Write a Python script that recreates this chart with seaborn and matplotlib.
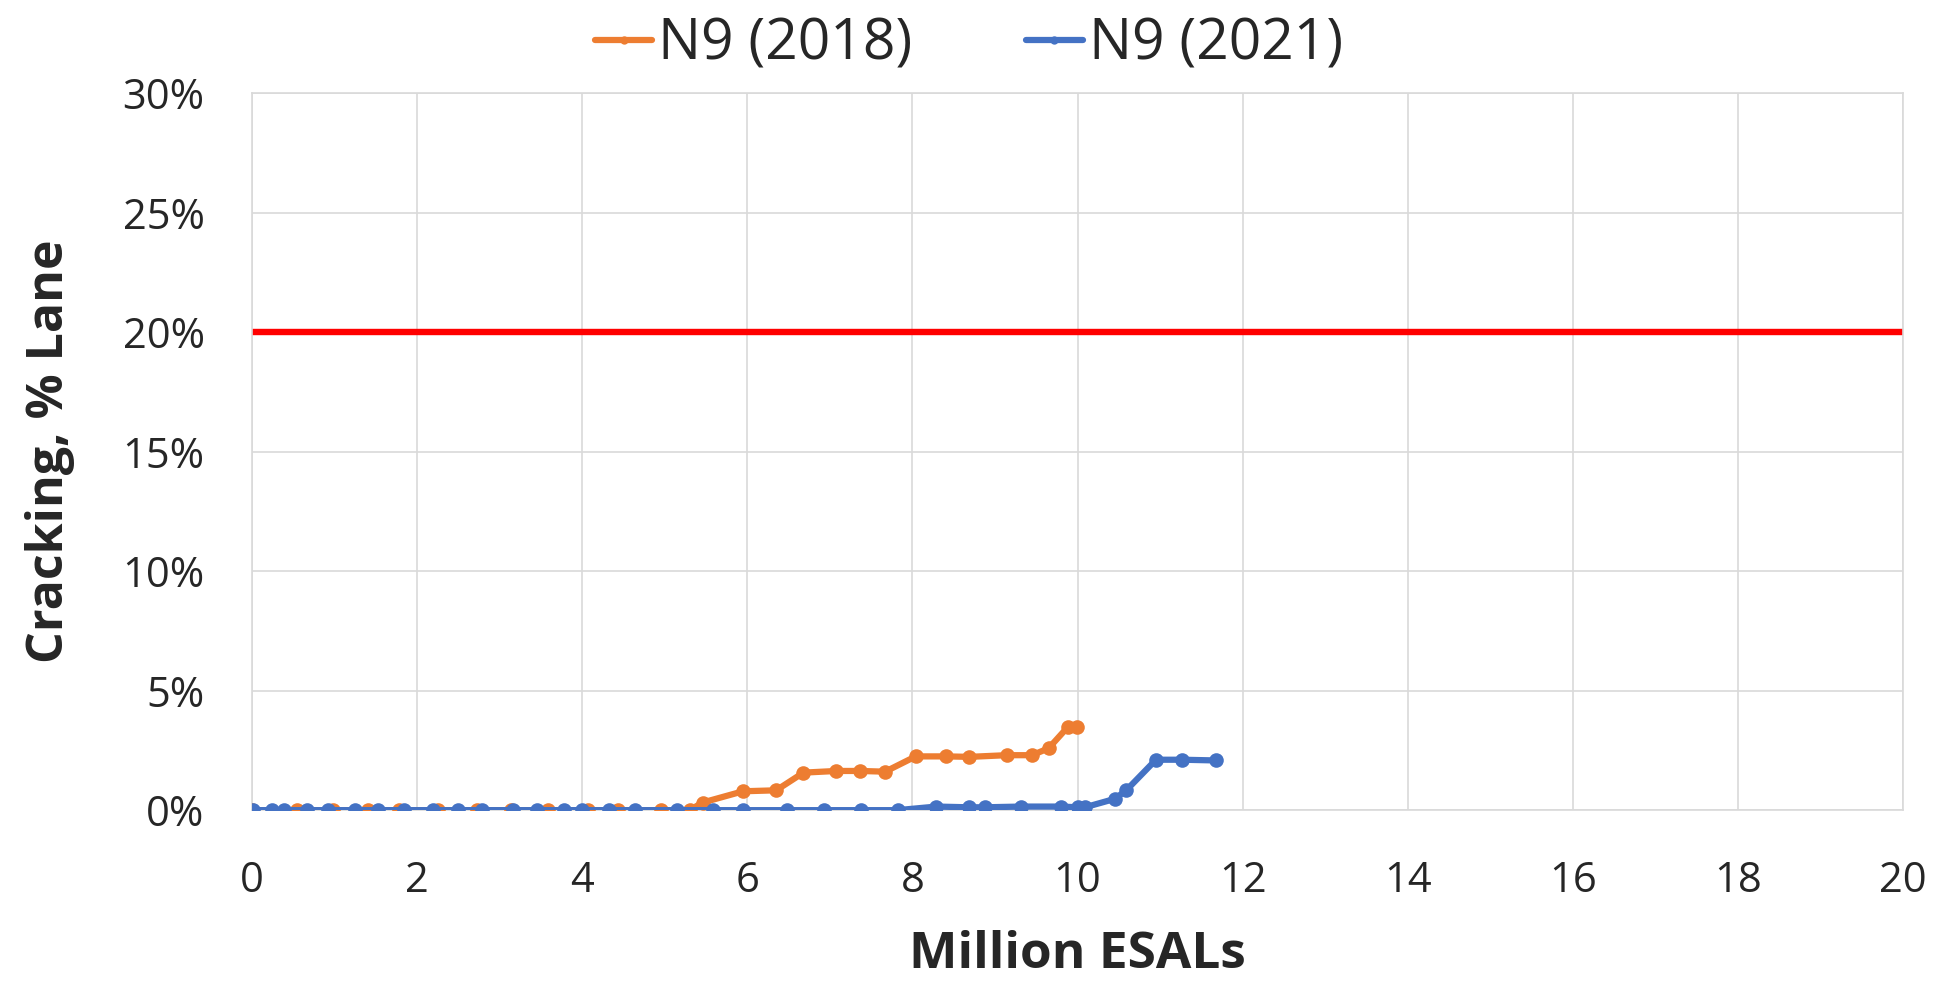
import pandas as pd
import matplotlib
matplotlib.use("Agg")
import matplotlib.pyplot as plt
import seaborn as sns

# million ESALs / cracking (% lane)
esal_2018 = [0.0, 0.55, 0.98, 1.40, 1.78, 2.25, 2.73, 3.14, 3.58, 4.07, 4.43, 4.95,
             5.30, 5.46, 5.95, 6.35, 6.68, 7.08, 7.37, 7.67, 8.04, 8.41, 8.69,
             9.14, 9.45, 9.65, 9.88, 9.99]
crack_2018 = [0, 0, 0, 0, 0, 0, 0, 0, 0, 0, 0, 0,
              0, 0.32, 0.79, 0.83, 1.57, 1.64, 1.64, 1.61, 2.25, 2.25, 2.23,
              2.30, 2.30, 2.59, 3.47, 3.47]

esal_2021 = [0.01, 0.24, 0.39, 0.67, 0.92, 1.25, 1.53, 1.84, 2.19, 2.49, 2.79, 3.16,
             3.45, 3.78, 4.00, 4.33, 4.64, 5.15, 5.59, 5.95, 6.48, 6.93, 7.38, 7.82,
             8.29, 8.68, 8.88, 9.32, 9.80, 10.00, 10.09, 10.45, 10.59, 10.95, 11.27, 11.68]
crack_2021 = [0, 0, 0, 0, 0, 0, 0, 0, 0, 0, 0, 0,
              0, 0, 0, 0, 0, 0, 0, 0, 0, 0, 0, 0,
              0.15, 0.12, 0.12, 0.15, 0.15, 0.12, 0.12, 0.47, 0.83, 2.11, 2.11, 2.08]

labels = ["N9 (2018)", "N9 (2021)"]
threshold = 20

df = pd.concat([
    pd.DataFrame({"esal": esal_2018, "crack": crack_2018, "section": labels[0]}),
    pd.DataFrame({"esal": esal_2021, "crack": crack_2021, "section": labels[1]}),
])

sns.set_style("white")
plt.rcParams["font.family"] = ["Open Sans", "DejaVu Sans"]

fig, ax = plt.subplots(figsize=(19.38, 9.82), dpi=100)
fig.subplots_adjust(left=0.13, right=0.982, top=0.905, bottom=0.175)

ax.axhline(threshold, color="#ff0000", lw=4.6, zorder=1)
sns.lineplot(data=df, x="esal", y="crack", hue="section", ax=ax,
             palette=["#ed7d31", "#4472c4"], marker="o", markersize=10.5,
             markeredgewidth=0, lw=4.5, sort=False, estimator=None, zorder=3,
             legend=False)

ax.set_xlim(0, 20)
ax.set_ylim(0, 30)
ax.set_xticks(range(0, 21, 2))
ax.set_yticks(range(0, 31, 5))
ax.yaxis.set_major_formatter("{x:.0f}%")
ax.grid(True, color="#d9d9d9", lw=1.2)
for s in ax.spines.values():
    s.set_color("#d9d9d9")
    s.set_linewidth(1.2)
ax.tick_params(labelsize=30, length=0)
ax.tick_params(axis="y", pad=34)
ax.tick_params(axis="x", pad=36)

ax.set_xlabel("Million ESALs", fontsize=37, fontweight="bold", labelpad=20)
ax.set_ylabel("Cracking, % Lane", fontsize=36, fontweight="bold", labelpad=34)

handles = [plt.Line2D([], [], color=c, lw=4.5, marker="o", markersize=6, markeredgewidth=0)
           for c in ["#ed7d31", "#4472c4"]]
fig.legend(handles, labels, loc="upper center", bbox_to_anchor=(0.5, 1.035), ncol=2,
           frameon=False, fontsize=41, handlelength=1.0, columnspacing=2.0,
           handletextpad=0.1)

fig.savefig("out.png", dpi=100)
